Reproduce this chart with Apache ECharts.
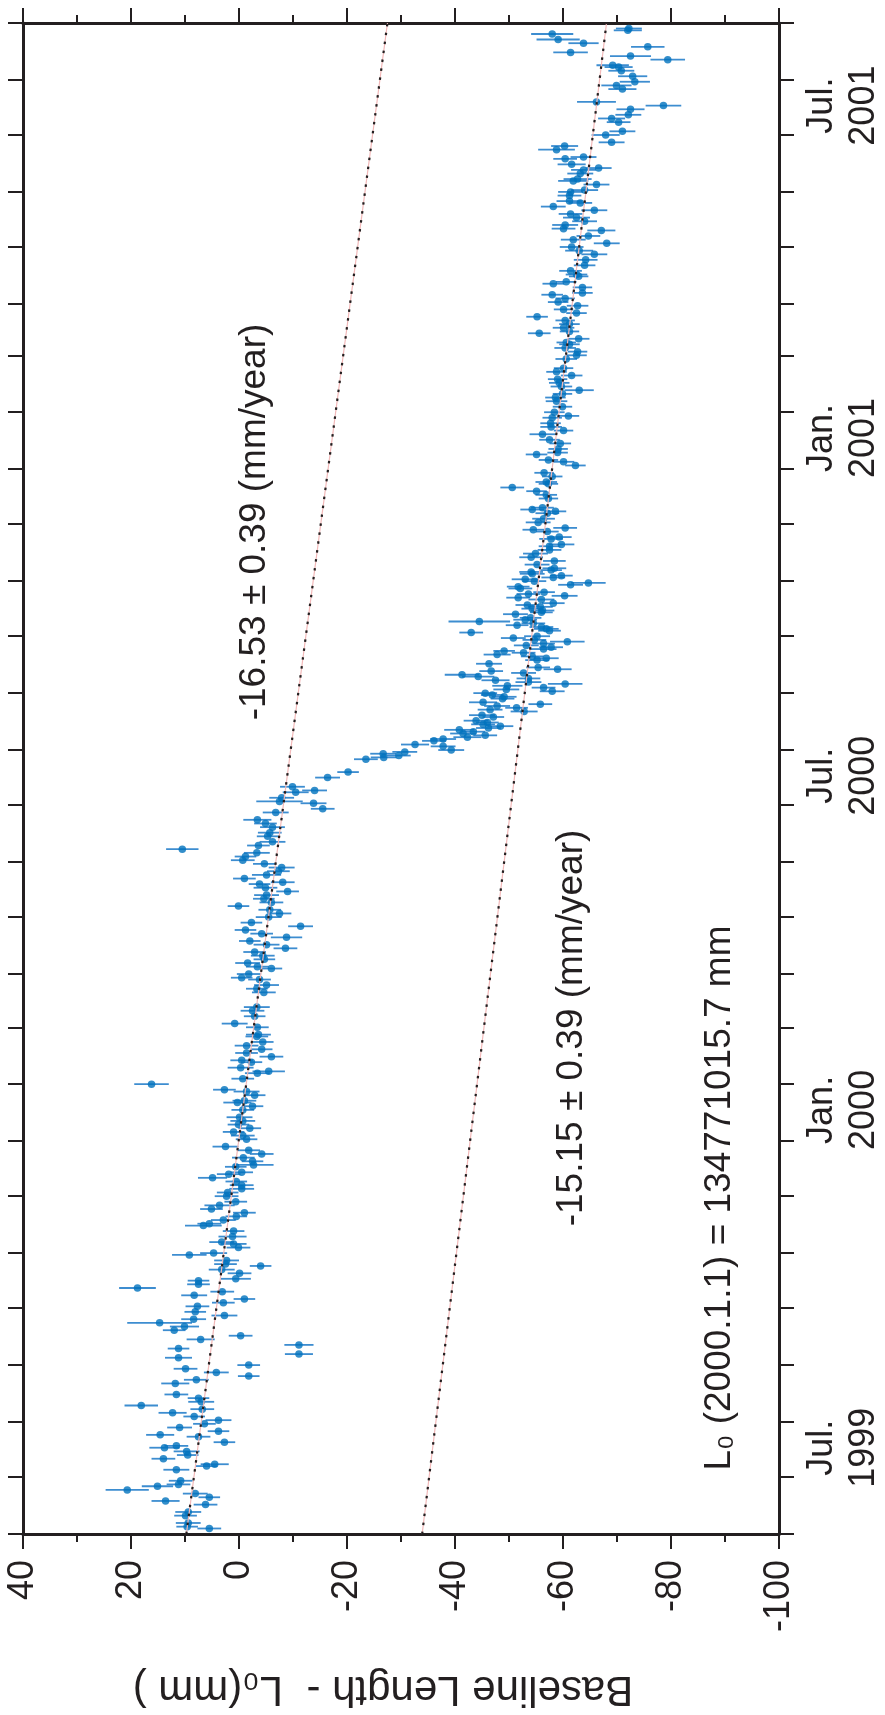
<!DOCTYPE html>
<html>
<head>
<meta charset="utf-8">
<script src="https://cdn.jsdelivr.net/npm/echarts@6/dist/echarts.min.js"></script>
<style>
  html, body { margin: 0; padding: 0; background: #ffffff; }
  #chart { width: 885px; height: 1715px; }
</style>
</head>
<body>
<div id="chart"></div>
<script>
// Daily GPS baseline solutions: day number counted from 2000-01-01 (UTC),
// baseline length minus L0 (mm) and its 1-sigma error (mm).
const days = [
  -228,-227,-225,-221,-219,-215,-213,-211,-209,-207,-205,-204,
  -202,-196,-194,-193,-190,-188,-186,-184,-183,-181,-178,-177,-175,-173,-171,-169,-167,-165,-163,-161,
  -159,-157,-155,-149,-147,-145,-143,-141,-139,-135,-133,-130,-128,-125,-123,-120,-118,-116,-114,-112,
  -110,-107,-105,-103,-101,-99,-97,-95,-93,-92,-89,-87,-85,-84,-82,-79,-78,-75,
  -73,-72,-69,-66,-63,-62,-60,-58,-56,-54,-52,-50,-47,-45,-43,-41,-39,-37,-35,-34,
  -31,-30,-28,-26,-24,-22,-20,-16,-14,-12,-10,-8,-6,-4,0,2,4,5,8,10,
  11,14,17,20,21,23,26,27,29,31,33,35,37,40,41,45,47,51,54,56,
  64,66,68,71,72,74,77,78,80,82,84,86,88,90,92,94,96,98,100,102,
  105,107,109,111,113,115,117,119,121,123,124,126,128,130,132,134,136,138,140,142,
  144,146,149,151,154,156,158,162,164,167,168,170,173,174,176,181,184,
  191,192,193,194,195,196,198,199,201,202,203,204,205,206,207,208,209,210,211,212,
  214,215,217,218,219,220,221,222,224,225,226,227,228,229,230,231,232,233,234,235,
  236,237,238,239,240,241,243,245,246,247,248,249,250,251,252,253,254,255,256,257,
  258,260,261,262,263,264,265,266,267,268,270,271,272,273,274,275,276,278,279,280,
  281,282,284,285,286,287,288,289,290,291,292,293,294,295,297,299,301,303,305,307,
  308,311,312,315,316,317,320,322,325,326,327,328,
  333,335,337,339,341,342,345,347,351,353,354,357,358,360,363,365,368,370,372,374,
  377,378,380,383,386,388,390,392,394,396,398,400,402,404,409,411,413,415,417,418,
  420,423,424,426,428,430,432,434,436,438,440,442,444,445,448,450,451,454,455,457,460,
  463,466,468,470,472,474,476,479,480,482,484,486,488,490,492,494,495,498,500,501,
  504,506,507,510,512,513,515,518,519,523,525,527,531,533,538,540,542,545,547,549,
  556,558,560,563,566,568,569,572,574,576,579,581,583,586,588,589
];
const lengthMm = [
  5.5,9.6,9.4,9.9,9.4,6.2,13.6,5.5,8.1,20.7,15.1,11.2,
  10.8,11.6,6.0,4.5,14.0,9.5,9.7,13.8,11.6,2.7,7.5,14.6,3.8,11.0,6.4,3.8,8.3,12.3,6.8,18.1,
  7.0,7.5,11.6,11.8,7.9,-1.8,4.2,9.9,-1.8,11.2,-11.1,11.2,-11.1,7.1,-0.3,12.0,10.1,14.7,8.4,2.7,
  8.1,7.7,2.9,-1.0,8.3,3.1,18.8,7.5,7.5,0.6,-0.1,3.2,-4.0,2.5,2.3,9.2,4.7,0.1,
  1.0,3.2,1.2,1.0,6.6,5.5,2.9,0.5,-1.0,5.1,3.6,0.6,2.3,2.1,-0.5,-0.5,0.5,4.9,1.9,-0.5,
  0.6,-2.7,-2.5,-0.8,-4.2,-1.8,2.5,-1.4,-0.7,1.0,-2.0,0.1,-0.7,-0.1,-0.7,-2.5,0.3,-1.0,-2.9,-1.4,
  2.7,16.2,-0.7,-3.4,-5.5,-0.3,-2.3,-0.5,-6.0,-1.4,-4.2,-1.4,-4.4,-3.3,-3.6,-3.4,0.8,-2.9,-2.5,-3.3,
  -4.6,-3.3,-5.1,-3.8,-0.5,-1.8,-6.0,-3.4,-1.6,-4.7,-4.4,-2.9,-8.6,-5.1,-2.0,-8.8,-4.2,-1.2,-11.4,-2.3,
  -5.5,-7.5,-5.7,0.1,-6.0,-4.6,-5.1,-9.0,-4.9,-3.8,-8.1,-1.0,-5.1,-7.3,-7.9,-4.7,-0.7,-1.2,-3.3,10.5,
  -3.6,-6.2,-5.3,-5.7,-6.2,-4.9,-3.4,-6.8,-15.5,-13.8,-7.5,-7.9,-10.5,-14.0,-9.9,-16.4,-20.2,
  -23.5,-26.8,-29.6,-26.7,-30.7,-39.3,-37.8,-32.6,-36.1,-37.8,-42.3,-45.6,-41.5,-43.4,-40.8,-46.2,-48.4,-45.2,-46.0,-43.9,
  -47.1,-45.0,-52.8,-46.5,-51.4,-47.8,-55.8,-45.2,-48.8,-49.1,-46.9,-45.6,-58.0,-49.5,-56.4,-49.7,-60.4,-53.6,-47.5,-53.6,
  -44.3,-41.3,-52.7,-46.7,-59.0,-55.4,-46.3,-55.2,-56.9,-54.3,-47.8,-52.7,-49.1,-56.4,-57.8,-53.2,-56.4,-60.8,-54.7,-50.8,
  -55.2,-43.0,-57.5,-56.9,-56.0,-51.5,-54.5,-44.5,-53.0,-54.0,-51.2,-56.0,-56.2,-54.3,-55.8,-53.4,-58.2,-56.0,-51.7,-60.3,
  -53.6,-56.5,-52.1,-51.7,-61.4,-64.7,-54.7,-53.0,-58.2,-59.7,-54.3,-54.1,-57.8,-58.4,-55.2,-58.4,-54.1,-54.9,-57.5,-57.5,
  -59.7,-57.8,-59.3,-57.1,-54.5,-60.4,-55.4,-56.4,-57.1,-58.6,-54.3,-56.2,
  -57.3,-56.9,-55.1,-50.6,-57.3,-56.9,-58.0,-56.5,-62.3,-60.1,-57.3,-55.1,-59.0,-59.1,-59.5,-57.5,-56.2,-60.1,-57.8,-57.7,
  -58.0,-61.0,-58.4,-59.9,-58.8,-58.6,-59.9,-63.0,-59.7,-59.3,-59.0,-61.6,-58.8,-60.1,-60.6,-62.5,-62.7,-60.4,-61.2,-60.6,
  -62.9,-55.6,-61.2,-60.1,-61.2,-60.4,-55.2,-62.5,-60.1,-62.7,-59.1,-60.4,-58.0,-63.6,-63.6,-58.2,-60.6,-62.9,-62.5,-61.4,-64.0,
  -64.2,-65.8,-63.0,-61.6,-68.1,-61.9,-64.7,-67.1,-60.1,-60.4,-64.0,-62.5,-61.4,-65.8,-58.2,-63.2,-61.2,-61.2,-61.4,-64.0,
  -66.2,-61.9,-62.7,-63.2,-63.8,-66.6,-61.6,-60.4,-63.8,-58.8,-60.3,-69.0,-67.9,-71.0,-70.3,-69.0,-72.1,-72.5,-78.6,-66.2,
  -71.0,-69.9,-73.3,-72.9,-70.8,-70.3,-69.2,-79.4,-72.5,-61.4,-75.7,-63.8,-59.1,-58.0,-72.0,-72.2
];
const errMm = [
  2.2,2.0,2.3,2.1,2.4,2.2,2.6,2.0,2.3,4.0,2.9,2.2,
  2.2,2.4,2.0,2.6,2.2,2.0,2.4,2.8,2.2,2.0,2.2,2.6,2.0,2.3,2.1,2.4,2.0,2.6,2.2,3.1,
  2.4,2.0,2.2,2.6,2.3,2.0,2.3,2.2,2.1,2.5,2.6,2.0,2.7,2.6,2.2,2.1,2.7,6.0,2.3,2.4,
  2.0,2.2,2.1,2.0,2.4,2.2,3.4,2.1,2.0,2.8,2.2,2.4,2.0,2.1,2.3,3.2,2.5,2.2,
  2.4,2.3,2.6,2.0,3.4,2.2,2.3,2.0,2.1,2.1,2.8,2.1,2.2,2.0,2.3,2.2,2.0,2.7,2.2,2.1,
  2.0,3.7,2.0,2.1,2.2,2.1,2.4,2.0,2.2,2.0,2.1,2.0,2.3,2.4,2.1,2.0,2.6,2.2,2.0,2.4,
  2.1,3.2,2.1,2.3,3.0,2.4,2.0,2.1,2.2,2.1,2.0,2.2,2.0,2.1,2.3,2.1,2.4,2.0,2.2,2.4,
  2.2,2.0,2.3,2.1,2.0,2.2,2.0,2.1,2.3,2.0,2.2,2.1,2.2,2.4,2.0,2.9,2.1,2.0,2.3,2.0,
  2.4,2.2,2.1,2.0,2.2,2.0,2.3,2.1,2.2,2.0,2.2,2.1,2.7,2.1,2.4,2.1,2.2,2.0,2.4,3.0,
  2.1,2.4,2.0,2.2,2.3,2.1,2.6,2.4,2.2,2.4,4.3,2.3,2.4,2.3,2.3,2.3,2.0,
  2.2,2.4,2.2,2.4,2.3,2.4,2.3,2.6,2.2,2.4,2.6,2.2,2.4,2.2,2.8,2.3,2.4,2.2,2.1,2.3,
  2.0,2.4,2.5,2.3,2.1,2.4,2.2,2.6,2.2,2.3,2.1,2.2,2.3,2.4,2.2,2.8,3.2,2.4,2.6,2.2,
  3.0,3.2,2.3,2.2,2.6,2.2,2.4,2.2,2.3,2.1,2.5,2.2,2.0,2.4,2.2,2.3,2.1,3.2,2.2,2.3,
  2.4,2.2,2.1,2.3,2.2,2.1,2.2,5.7,2.2,2.0,2.3,2.1,2.2,2.0,2.3,2.2,2.1,2.4,2.2,2.4,
  2.2,2.0,2.2,2.1,2.3,3.2,2.2,2.5,2.2,2.1,2.3,2.2,2.0,2.2,2.3,2.1,2.2,2.3,2.2,2.0,
  2.4,2.2,2.3,2.1,2.0,2.2,2.3,2.1,2.2,2.0,2.2,2.1,
  1.8,2.0,1.9,2.2,1.8,2.0,1.9,1.8,1.9,2.0,1.8,2.0,1.9,1.8,2.0,1.9,2.4,1.8,2.0,1.9,
  1.8,2.0,1.9,1.8,2.0,1.9,1.8,2.7,2.0,1.9,1.8,2.0,1.9,1.8,2.0,1.9,1.8,2.0,1.9,1.8,
  2.0,2.1,1.8,2.0,1.9,1.8,2.0,1.9,1.8,2.0,1.9,1.8,2.0,1.9,1.8,2.0,1.9,1.8,2.0,2.1,2.0,
  2.2,2.4,2.6,2.2,2.4,2.3,2.2,2.6,2.2,2.4,2.3,2.5,2.2,2.4,2.3,2.2,2.4,2.2,2.3,2.5,
  2.4,2.8,2.6,2.4,2.3,2.4,2.6,2.2,2.4,3.4,2.5,2.4,2.6,2.4,2.2,2.5,2.4,2.6,3.3,3.6,
  2.6,2.8,2.8,2.7,2.4,2.6,3.0,3.2,3.8,3.2,3.1,2.8,4.0,3.9,2.6,2.4
];

// Straight-line fits (rate in mm/year, offset in mm at 2000.0).
const fitRates = [-16.53, -15.15];
const fitOffsets = [-0.7, -43.5];

// Axis extents and annotations.
const lengthRange = [-100, 40];
const timeRange = ['1999-05-15', '2001-08-15'];
const dateLabels = ['1999-07-01', '2000-01-01', '2000-07-01', '2001-01-01', '2001-07-01'];
const monthAbbr = ['Jan.', 'Feb.', 'Mar.', 'Apr.', 'May', 'Jun.', 'Jul.', 'Aug.', 'Sep.', 'Oct.', 'Nov.', 'Dec.'];

const DAY_MS = 86400000;
const EPOCH = Date.UTC(2000, 0, 1);
const dayOf = s => Math.round((Date.parse(s + 'T00:00:00Z') - EPOCH) / DAY_MS);

const tMin = dayOf(timeRange[0]);
const tMax = dayOf(timeRange[1]);

// Monthly ticks on the 15th of every month across the time range.
const monthTicks = [];
for (let y = 1999; y <= 2001; y++) {
  for (let m = 0; m < 12; m++) {
    const d = Math.round((Date.UTC(y, m, 15) - EPOCH) / DAY_MS);
    if (d >= tMin && d <= tMax) monthTicks.push(d);
  }
}
const labelDays = dateLabels.map(dayOf);

const points = days.map((d, i) => [lengthMm[i], d]);
const bars = days.map((d, i) => [lengthMm[i], d, errMm[i]]);
const fitLine = k => [tMin, tMax].map(d => [fitOffsets[k] + fitRates[k] * d / 365.25, d]);

const INK = '#231f20';
const FONT = '"Liberation Sans", Arial, Helvetica, sans-serif';
const BLUE = '#0072bd';

const valueAxisBase = {
  type: 'value',
  min: lengthRange[0],
  max: lengthRange[1],
  interval: 20,
  inverse: true,
  splitLine: { show: false },
  axisLine: { show: true, onZero: false, lineStyle: { color: INK, width: 3 } },
  axisTick: { show: true, inside: false, length: 15, lineStyle: { color: INK, width: 2 } },
  minorTick: { show: true, splitNumber: 2, length: 8, lineStyle: { color: INK, width: 2 } }
};
const timeAxisBase = {
  type: 'value',
  min: tMin,
  max: tMax,
  splitLine: { show: false },
  axisLine: { show: true, onZero: false, lineStyle: { color: INK, width: 3 } },
  axisTick: { show: true, inside: false, length: 15, customValues: monthTicks, lineStyle: { color: INK, width: 2 } }
};

const chart = echarts.init(document.getElementById('chart'), null, { renderer: 'canvas' });

const dotted = { color: INK, width: 2.2, type: [2.5, 6.5], cap: 'butt' };
const faint = { color: '#f2b8b8', width: 1.2 };

chart.setOption({
  animation: false,
  backgroundColor: '#ffffff',
  textStyle: { fontFamily: FONT },
  grid: { left: 23, right: 106, top: 23, bottom: 181, containLabel: false },
  xAxis: [
    Object.assign({}, valueAxisBase, {
      position: 'bottom',
      axisLabel: { show: true, rotate: 90, fontSize: 36, margin: 26, color: INK, fontFamily: FONT,
        showMinLabel: true, showMaxLabel: true },
      name: 'Baseline Length -  L\u2080(mm )',
      nameLocation: 'middle',
      nameRotate: 180,
      nameGap: 134,
      nameTextStyle: { fontSize: 42, color: INK, fontFamily: FONT, padding: [0, 0, 0, 36] }
    }),
    Object.assign({}, valueAxisBase, {
      position: 'top',
      axisLabel: { show: false }
    })
  ],
  yAxis: [
    Object.assign({}, timeAxisBase, {
      position: 'right',
      axisLabel: {
        show: true, rotate: 90, fontSize: 36, lineHeight: 42, margin: 22, color: INK, fontFamily: FONT,
        customValues: labelDays,
        formatter: v => {
          const dt = new Date(EPOCH + v * DAY_MS);
          return monthAbbr[dt.getUTCMonth()] + '\n' + dt.getUTCFullYear();
        }
      }
    }),
    Object.assign({}, timeAxisBase, {
      position: 'left',
      axisLabel: { show: false }
    })
  ],
  series: [
    {
      name: 'error',
      type: 'custom',
      xAxisIndex: 0,
      yAxisIndex: 0,
      clip: true,
      data: bars,
      encode: { x: 0, y: 1 },
      renderItem: (params, api) => {
        const v = api.value(0), d = api.value(1), e = api.value(2);
        const a = api.coord([v - e, d]);
        const b = api.coord([v + e, d]);
        return {
          type: 'line',
          shape: { x1: a[0], y1: a[1], x2: b[0], y2: b[1] },
          style: { stroke: '#3d8dd0', lineWidth: 1.8 }
        };
      },
      z: 2
    },
    {
      name: 'daily solution',
      type: 'scatter',
      xAxisIndex: 0,
      yAxisIndex: 0,
      data: points,
      symbol: 'circle',
      symbolSize: 7.5,
      itemStyle: { color: BLUE },
      z: 3
    },
    ...[0, 1].flatMap(k => [
      { type: 'line', data: fitLine(k), showSymbol: false, symbol: 'none', lineStyle: faint, z: 4,
        xAxisIndex: 0, yAxisIndex: 0 },
      { type: 'line', data: fitLine(k), showSymbol: false, symbol: 'none', lineStyle: dotted, z: 5,
        xAxisIndex: 0, yAxisIndex: 0 }
    ])
  ],
  graphic: [
    {
      type: 'text', x: 255, y: 522, rotation: Math.PI / 2, z: 10,
      style: { text: '-16.53 \u00b1 0.39 (mm/year)', font: '37px ' + FONT, fill: INK,
        textAlign: 'center', textVerticalAlign: 'middle', align: 'center', verticalAlign: 'middle' }
    },
    {
      type: 'text', x: 572, y: 1028, rotation: Math.PI / 2, z: 10,
      style: { text: '-15.15 \u00b1 0.39 (mm/year)', font: '37px ' + FONT, fill: INK,
        textAlign: 'center', textVerticalAlign: 'middle', align: 'center', verticalAlign: 'middle' }
    },
    {
      type: 'text', x: 720, y: 1198, rotation: Math.PI / 2, z: 10,
      style: { text: 'L\u2080 (2000.1.1) = 134771015.7 mm', font: '37px ' + FONT, fill: INK,
        textAlign: 'center', textVerticalAlign: 'middle', align: 'center', verticalAlign: 'middle' }
    }
  ]
});
</script>
</body>
</html>
